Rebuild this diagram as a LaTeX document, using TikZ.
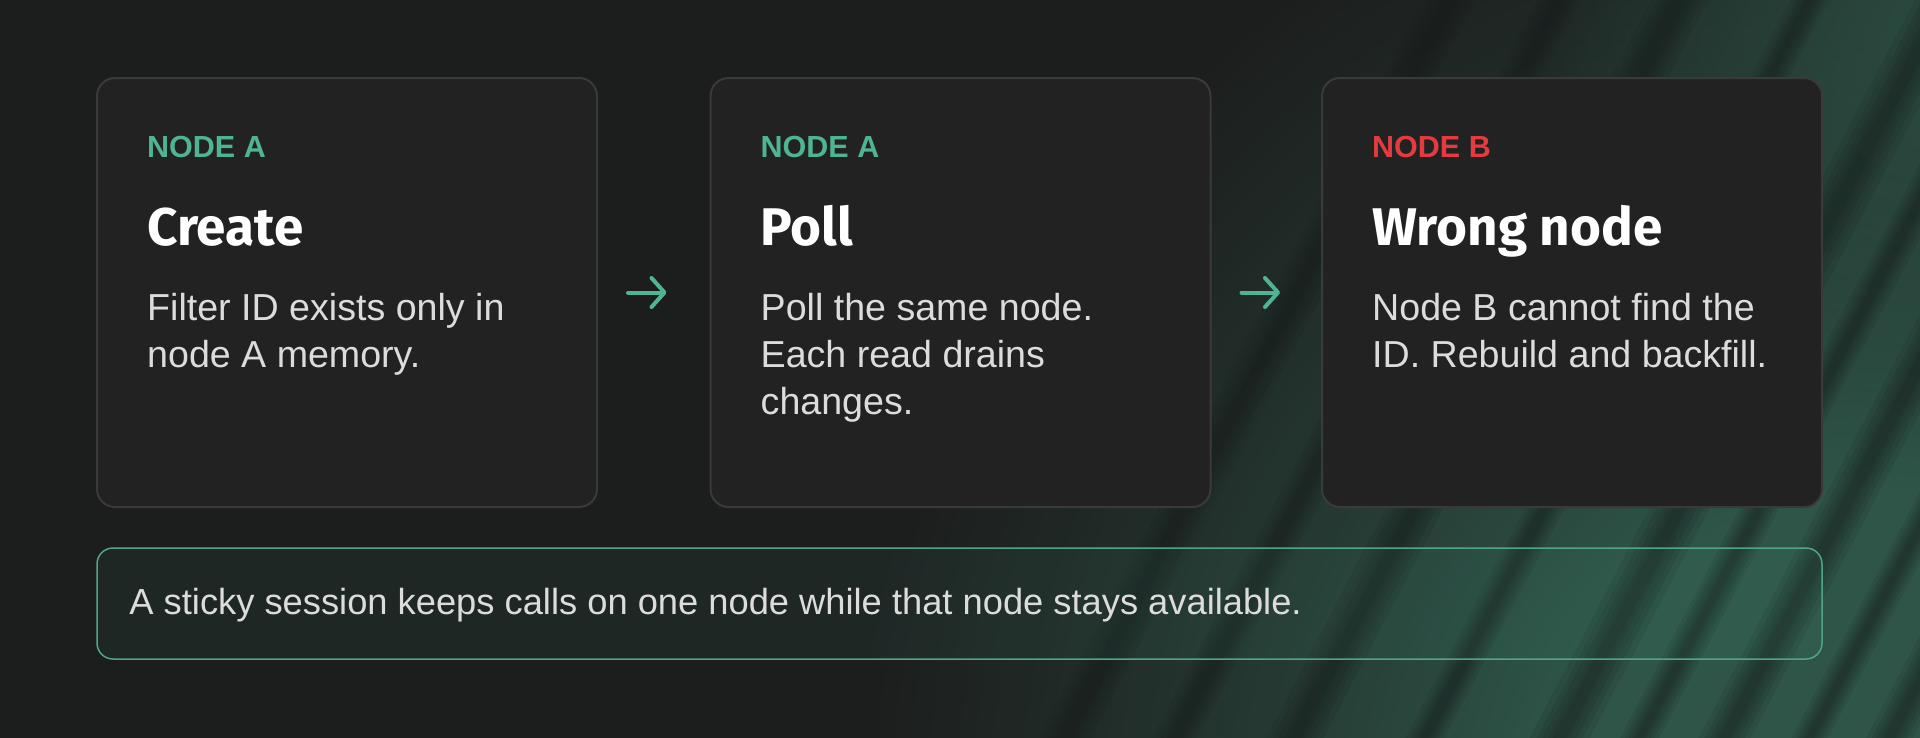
\documentclass[tikz,border=0pt]{standalone}
\usepackage{fontspec}
\setmainfont{Liberation Sans}
\newfontfamily\titlefont{Fira Sans}
\usetikzlibrary{arrows.meta,calc,fadings}
\definecolor{bg}{HTML}{1C1D1D}
\definecolor{glowc}{HTML}{2E5548}
\colorlet{glowmid}{glowc!50!bg}
\colorlet{glowlow}{glowc!18!bg}
\definecolor{streak}{HTML}{171B1A}
\definecolor{cardfill}{HTML}{222222}
\definecolor{cardline}{HTML}{3A3A3A}
\definecolor{accent}{HTML}{4FB493}
\definecolor{alert}{HTML}{E33B3F}
\definecolor{bodytext}{HTML}{DCDCDC}
\definecolor{noteline}{HTML}{4FA686}
\pgfdeclareradialshading{glowshade}{\pgfpoint{0bp}{0bp}}{color(0bp)=(glowc); color(8bp)=(glowc); color(15bp)=(glowmid); color(21bp)=(glowlow); color(25bp)=(bg); color(50bp)=(bg)}
\tikzfading[name=softglow, inner color=transparent!20, outer color=transparent!100]
\newcommand{\bodylines}[1]{\parbox[t]{440pt}{\raggedright #1}}
\begin{document}
\begin{tikzpicture}[x=1pt,y=-1pt,
  card/.style={draw=cardline, line width=2pt, fill=cardfill, rounded corners=18pt,
    minimum width=500pt, minimum height=429pt, inner sep=0pt},
  note/.style={draw=noteline, line width=1.5pt, fill=accent, fill opacity=0.07,
    draw opacity=1, rounded corners=16pt, minimum width=1725pt, minimum height=111pt, inner sep=0pt},
  tag/.style={anchor=base west, inner sep=0pt, font=\fontsize{30.5}{36}\selectfont\bfseries},
  headline/.style={anchor=base west, inner sep=0pt, text=white,
    font=\titlefont\fontsize{53}{60}\selectfont\bfseries},
  bodytxt/.style={anchor=base west, inner sep=0pt, text=bodytext,
    font=\fontsize{37.6}{47}\selectfont},
  flow/.style={draw=accent, line width=4pt, line cap=round,
    -{Straight Barb[length=13pt,width=29pt,line cap=round,line join=round]}},
]
\useasboundingbox (0,0) rectangle (1920,737);
% background
\fill[bg] (-10,-10) rectangle (1930,747);
\begin{scope}
\clip (-10,-10) rectangle (1930,747);
\shade[shading=glowshade] (1880,820) circle (1030);
\fill[glowc, path fading=softglow] (1960,30) circle (420);
\foreach \a/\w in {1060/40,1170/34,1290/44,1420/30,1555/46,1635/30,1720/40,1805/28,1885/36,1965/30,2050/40,2130/34}{
  \foreach \k in {1.3,1,0.75,0.5,0.3}{
    \fill[streak, opacity=0.13] (\a-\w*\k/2,747) -- (\a+\w*\k/2,747) -- (\a+\w*\k/2+395,-10) -- (\a-\w*\k/2+395,-10) -- cycle;
  }
}
\end{scope}
% cards
\node[card] (c1) at (347,292.5) {};
\node[card] (c2) at (960.5,292.5) {};
\node[card] (c3) at (1572,292.5) {};
% card 1
\node[tag, text=accent] (t1) at ($(c1.north west)+(51,80)$) {NODE A};
\node[headline] (h1) at ($(c1.north west)+(51,168)$) {Create};
\node[bodytxt] (b1) at ($(c1.north west)+(51,243)$) {\bodylines{Filter ID exists only in\\node A memory.}};
% card 2
\node[tag, text=accent] (t2) at ($(c2.north west)+(51,80)$) {NODE A};
\node[headline] (h2) at ($(c2.north west)+(51,168)$) {Poll};
\node[bodytxt] (b2) at ($(c2.north west)+(51,243)$) {\bodylines{Poll the same node.\\Each read drains\\changes.}};
% card 3
\node[tag, text=alert] (t3) at ($(c3.north west)+(51,80)$) {NODE B};
\node[headline] (h3) at ($(c3.north west)+(51,168)$) {Wrong node};
\node[bodytxt] (b3) at ($(c3.north west)+(51,243)$) {\bodylines{Node B cannot find the\\ID. Rebuild and backfill.}};
% arrows
\draw[flow, shorten <=30pt, shorten >=43pt] (c1.east) -- (c2.west);
\draw[flow, shorten <=30pt, shorten >=41pt] (c2.east) -- (c3.west);
% note
\node[note] (n) at (959.5,603.5) {};
\node[anchor=base west, inner sep=0pt, text=bodytext, font=\fontsize{36.3}{47}\selectfont] (nt) at ($(n.west)+(33,10.5)$) {A sticky session keeps calls on one node while that node stays available.};
\end{tikzpicture}
\end{document}
